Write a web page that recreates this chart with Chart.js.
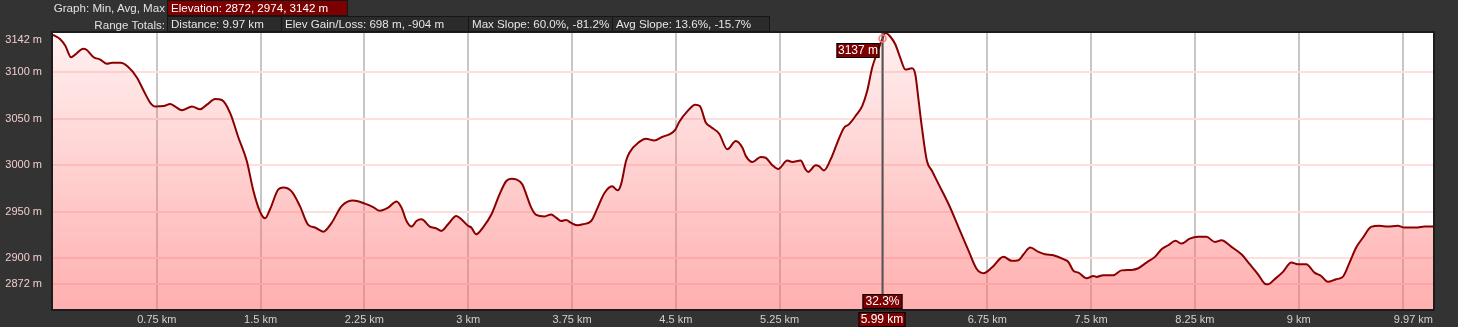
<!DOCTYPE html>
<html>
<head>
<meta charset="utf-8">
<script src="https://cdn.jsdelivr.net/npm/chart.js@4/dist/chart.umd.min.js"></script>
<style>
  html, body { margin: 0; padding: 0; background: #333333; }
  #wrap { position: relative; width: 1458px; height: 327px; overflow: hidden; font-family: "Liberation Sans", Arial, sans-serif; font-size: 11.6px; }
  canvas { position: absolute; left: 0; top: 0; }
  .lbl { position: absolute; color: #e2e2e2; white-space: nowrap; text-align: right; line-height: 15px; }
  .box { position: absolute; box-sizing: border-box; height: 16px; line-height: 14px; padding-left: 3px; white-space: nowrap; border: 1px solid #161616; color: #e6e6e6; background: #2b2b2b; overflow: hidden; }
  .box.red { background: #7d0000; color: #ffffff; }
</style>
</head>
<body>
<div id="wrap">
  <canvas id="c" width="1458" height="327"></canvas>
  <div class="lbl" style="left:0; width:165px; top:0;">Graph: Min, Avg, Max</div>
  <div class="box red" style="left:167px; top:0; width:181px;">Elevation: 2872, 2974, 3142 m</div>
  <div class="lbl" style="left:0; width:165px; top:16.5px;">Range Totals:</div>
  <div class="box" style="left:167px; top:16px; width:115px;">Distance: 9.97 km</div>
  <div class="box" style="left:281px; top:16px; width:188px;">Elev Gain/Loss: 698 m, -904 m</div>
  <div class="box" style="left:468px; top:16px; width:145px;">Max Slope: 60.0%, -81.2%</div>
  <div class="box" style="left:612px; top:16px; width:158px;">Avg Slope: 13.6%, -15.7%</div>
</div>
<script>
// ---- data (distance in km, elevation in m) ----
const km = [0.0,0.054,0.09,0.131,0.162,0.218,0.242,0.294,0.342,0.39,0.427,0.487,0.54,0.607,0.655,0.703,0.739,0.799,0.847,0.883,0.931,1.004,1.063,1.112,1.172,1.22,1.28,1.34,1.40,1.448,1.496,1.532,1.568,1.628,1.664,1.725,1.784,1.844,1.893,1.953,2.013,2.085,2.169,2.253,2.313,2.361,2.421,2.482,2.518,2.554,2.59,2.626,2.662,2.722,2.77,2.806,2.854,2.914,2.95,2.998,3.022,3.058,3.106,3.167,3.226,3.275,3.311,3.347,3.39,3.419,3.455,3.491,3.551,3.599,3.635,3.671,3.707,3.743,3.791,3.827,3.888,3.935,3.983,4.039,4.08,4.104,4.14,4.164,4.236,4.284,4.344,4.404,4.452,4.495,4.524,4.584,4.64,4.673,4.717,4.753,4.813,4.872,4.933,4.981,5.005,5.053,5.113,5.149,5.197,5.24,5.305,5.341,5.401,5.437,5.456,5.51,5.533,5.57,5.618,5.666,5.714,5.75,5.798,5.846,5.882,5.918,5.954,5.99,6.014,6.05,6.086,6.122,6.158,6.206,6.23,6.254,6.278,6.314,6.35,6.399,6.471,6.543,6.615,6.675,6.723,6.783,6.867,6.927,6.975,7.012,7.06,7.12,7.168,7.228,7.3,7.336,7.372,7.408,7.468,7.516,7.54,7.588,7.66,7.72,7.792,7.841,7.9,7.961,8.009,8.057,8.11,8.153,8.213,8.273,8.333,8.394,8.442,8.514,8.586,8.646,8.706,8.754,8.778,8.826,8.886,8.946,8.994,9.054,9.114,9.162,9.21,9.27,9.318,9.367,9.415,9.463,9.523,9.583,9.643,9.715,9.763,9.859,9.907,9.97];
const elev = [3140,3135,3128,3116,3119,3125,3124,3116,3113.5,3109,3110,3110,3106,3094,3080,3067,3063,3063.5,3065.7,3063,3059,3063,3060,3065,3071,3070,3056,3029.5,3004.5,2972.3,2950,2943,2952.6,2974,2976,2971.6,2956,2935.8,2933,2928.6,2938,2956,2962,2958.7,2955,2951,2954.4,2961,2954.4,2940,2934,2940,2941.8,2934,2932,2929.4,2936.5,2945.5,2942,2935,2933,2925.8,2933,2947,2968.7,2983,2985.5,2984.8,2979.4,2968.7,2954.4,2946.6,2945,2947,2943.7,2940,2941,2938,2935.4,2936.5,2940,2954.4,2969.8,2977.3,2973,2979.4,3004.5,3013.4,3025,3028.4,3026.6,3030.6,3033,3038,3046.4,3058,3065,3063.5,3045.6,3041,3033.8,3017,3026,3018.8,3010,3003.4,3008.8,3008,3000,2996,3005,3003.4,3005,2995.5,2992.7,2999.8,2999,2994.4,3006.2,3024,3040,3043.8,3052.8,3063.5,3079.6,3104.6,3120.7,3135,3142,3138,3129.6,3115,3102.8,3104,3097.4,3069,3040,3004.5,2994,2979.4,2958,2933,2908,2888.2,2884,2890,2901.5,2897.2,2897.8,2904.3,2911.5,2906.9,2904.3,2903.2,2899,2896,2886.5,2884.6,2878.5,2881,2880,2881.8,2881.8,2887,2887.5,2889.3,2895.4,2901.5,2909.7,2914,2918.7,2915.8,2921.1,2923,2923,2917.6,2919.3,2912.2,2904.3,2893.6,2882.8,2872.8,2872,2877.5,2885.4,2895.4,2893.6,2893.6,2884.6,2881,2874.7,2877.5,2880,2895.4,2911.5,2922,2933.7,2934.8,2934,2935,2933,2933,2934,2934];

const xTicks = [0, 0.75, 1.5, 2.25, 3, 3.75, 4.5, 5.25, 6, 6.75, 7.5, 8.25, 9, 9.75, 9.97];
const xHiddenLabels = [0, 6, 9.75, 9.97];
const yTicks = [2872, 2900, 2950, 3000, 3050, 3100, 3142];
const xMax = 9.97, yMin = 2845.5, yMax = 3142;

const cursorKm = 5.99;
const cursorElevText = "3137 m";
const cursorSlopeText = "32.3%";
const cursorKmText = "5.99 km";
const endKmText = "9.97 km";
const topYText = "3142 m";

const points = km.map((v, i) => ({ x: v, y: elev[i] }));

function box(ctx, text, x, y, w, h) {
  ctx.fillStyle = '#7d0000';
  ctx.fillRect(x, y, w, h);
  ctx.strokeStyle = '#000';
  ctx.lineWidth = 1;
  ctx.strokeRect(x + 0.5, y + 0.5, w - 1, h - 1);
  ctx.fillStyle = '#fff';
  ctx.font = '12px "Liberation Sans", Arial, sans-serif';
  ctx.textAlign = 'center';
  ctx.textBaseline = 'middle';
  ctx.fillText(text, x + w / 2, y + h / 2 + 0.5);
}

function interpElev(k) {
  for (let i = 1; i < km.length; i++) {
    if (km[i] >= k) {
      const t = (k - km[i - 1]) / (km[i] - km[i - 1]);
      return elev[i - 1] + t * (elev[i] - elev[i - 1]);
    }
  }
  return elev[elev.length - 1];
}

const overlay = {
  id: 'overlay',
  beforeDraw(chart) {
    const { ctx, chartArea: a } = chart;
    ctx.save();
    ctx.fillStyle = '#333333';
    ctx.fillRect(0, 0, chart.width, chart.height);
    ctx.fillStyle = '#ffffff';
    ctx.fillRect(a.left, a.top, a.right - a.left, a.bottom - a.top);
    ctx.restore();
  },
  afterDraw(chart) {
    const { ctx, chartArea: a, scales } = chart;
    const xs = scales.x, ys = scales.y;
    ctx.save();
    // frame
    ctx.strokeStyle = '#1c1c1c';
    ctx.lineWidth = 2;
    ctx.strokeRect(a.left - 1, a.top - 1, a.right - a.left + 2, a.bottom - a.top + 2);
    // crosshair
    const cx = Math.round(xs.getPixelForValue(cursorKm)) + 0.5;
    ctx.strokeStyle = '#555555';
    ctx.lineWidth = 2;
    ctx.beginPath();
    ctx.moveTo(cx, a.top);
    ctx.lineTo(cx, a.bottom);
    ctx.stroke();
    // marker
    const cy = ys.getPixelForValue(interpElev(cursorKm));
    ctx.strokeStyle = '#ff7a7a';
    ctx.lineWidth = 1.5;
    ctx.beginPath();
    ctx.arc(cx, cy - 1, 3.5, 0, Math.PI * 2);
    ctx.stroke();
    // value boxes
    box(ctx, cursorElevText, cx - 46, 43, 43, 15);
    box(ctx, cursorSlopeText, cx - 20, 294, 40, 15);
    box(ctx, cursorKmText, cx - 24, 312, 47, 15);
    // end distance label (right aligned)
    ctx.fillStyle = '#d2d2d2';
    ctx.font = '11px "Liberation Sans", Arial, sans-serif';
    ctx.textAlign = 'right';
    ctx.textBaseline = 'middle';
    ctx.fillText(endKmText, xs.getPixelForValue(xMax), 320);
    // top y label (kept inside)
    ctx.fillStyle = '#f2cccc';
    ctx.textAlign = 'right';
    ctx.fillText(topYText, a.left - 11, 40);
    ctx.restore();
  }
};

new Chart(document.getElementById('c'), {
  type: 'line',
  data: {
    datasets: [{
      data: points,
      borderColor: '#8a0000',
      borderWidth: 2,
      pointRadius: 0,
      cubicInterpolationMode: 'monotone',
      fill: 'start',
      backgroundColor: (context) => {
        const a = context.chart.chartArea;
        if (!a) return 'rgba(255,110,110,0.35)';
        const g = context.chart.ctx.createLinearGradient(0, a.top, 0, a.bottom);
        g.addColorStop(0, 'rgba(255,110,110,0.1)');
        g.addColorStop(1, 'rgba(255,110,110,0.55)');
        return g;
      }
    }]
  },
  options: {
    responsive: false,
    devicePixelRatio: 1,
    animation: false,
    layout: { padding: { top: 33, right: 25, left: 0, bottom: 0 } },
    plugins: { legend: { display: false }, tooltip: { enabled: false } },
    scales: {
      x: {
        type: 'linear',
        min: 0,
        max: xMax,
        afterBuildTicks: (s) => { s.ticks = xTicks.map(v => ({ value: v })); },
        afterFit: (s) => { s.height = 18; },
        border: { display: false },
        grid: {
          drawTicks: false,
          lineWidth: 2,
          color: (c) => (c.tick && (c.tick.value === 0 || c.tick.value === xMax)) ? 'rgba(0,0,0,0)' : '#c6c6c6'
        },
        ticks: {
          autoSkip: false,
          maxRotation: 0,
          padding: 4,
          color: '#d2d2d2',
          font: { family: '"Liberation Sans", Arial, sans-serif', size: 11 },
          callback: (v) => xHiddenLabels.includes(v) ? '' : v + ' km'
        }
      },
      y: {
        min: yMin,
        max: yMax,
        afterBuildTicks: (s) => { s.ticks = yTicks.map(v => ({ value: v })); },
        afterFit: (s) => { s.width = 53; },
        border: { display: false },
        grid: {
          drawTicks: false,
          lineWidth: 2,
          color: (c) => (c.tick && c.tick.value === yMax) ? 'rgba(0,0,0,0)' : '#ffdede'
        },
        ticks: {
          padding: 11,
          color: '#f2cccc',
          font: { family: '"Liberation Sans", Arial, sans-serif', size: 11 },
          callback: (v) => v === yMax ? '' : v + ' m'
        }
      }
    }
  },
  plugins: [overlay]
});
</script>
</body>
</html>
